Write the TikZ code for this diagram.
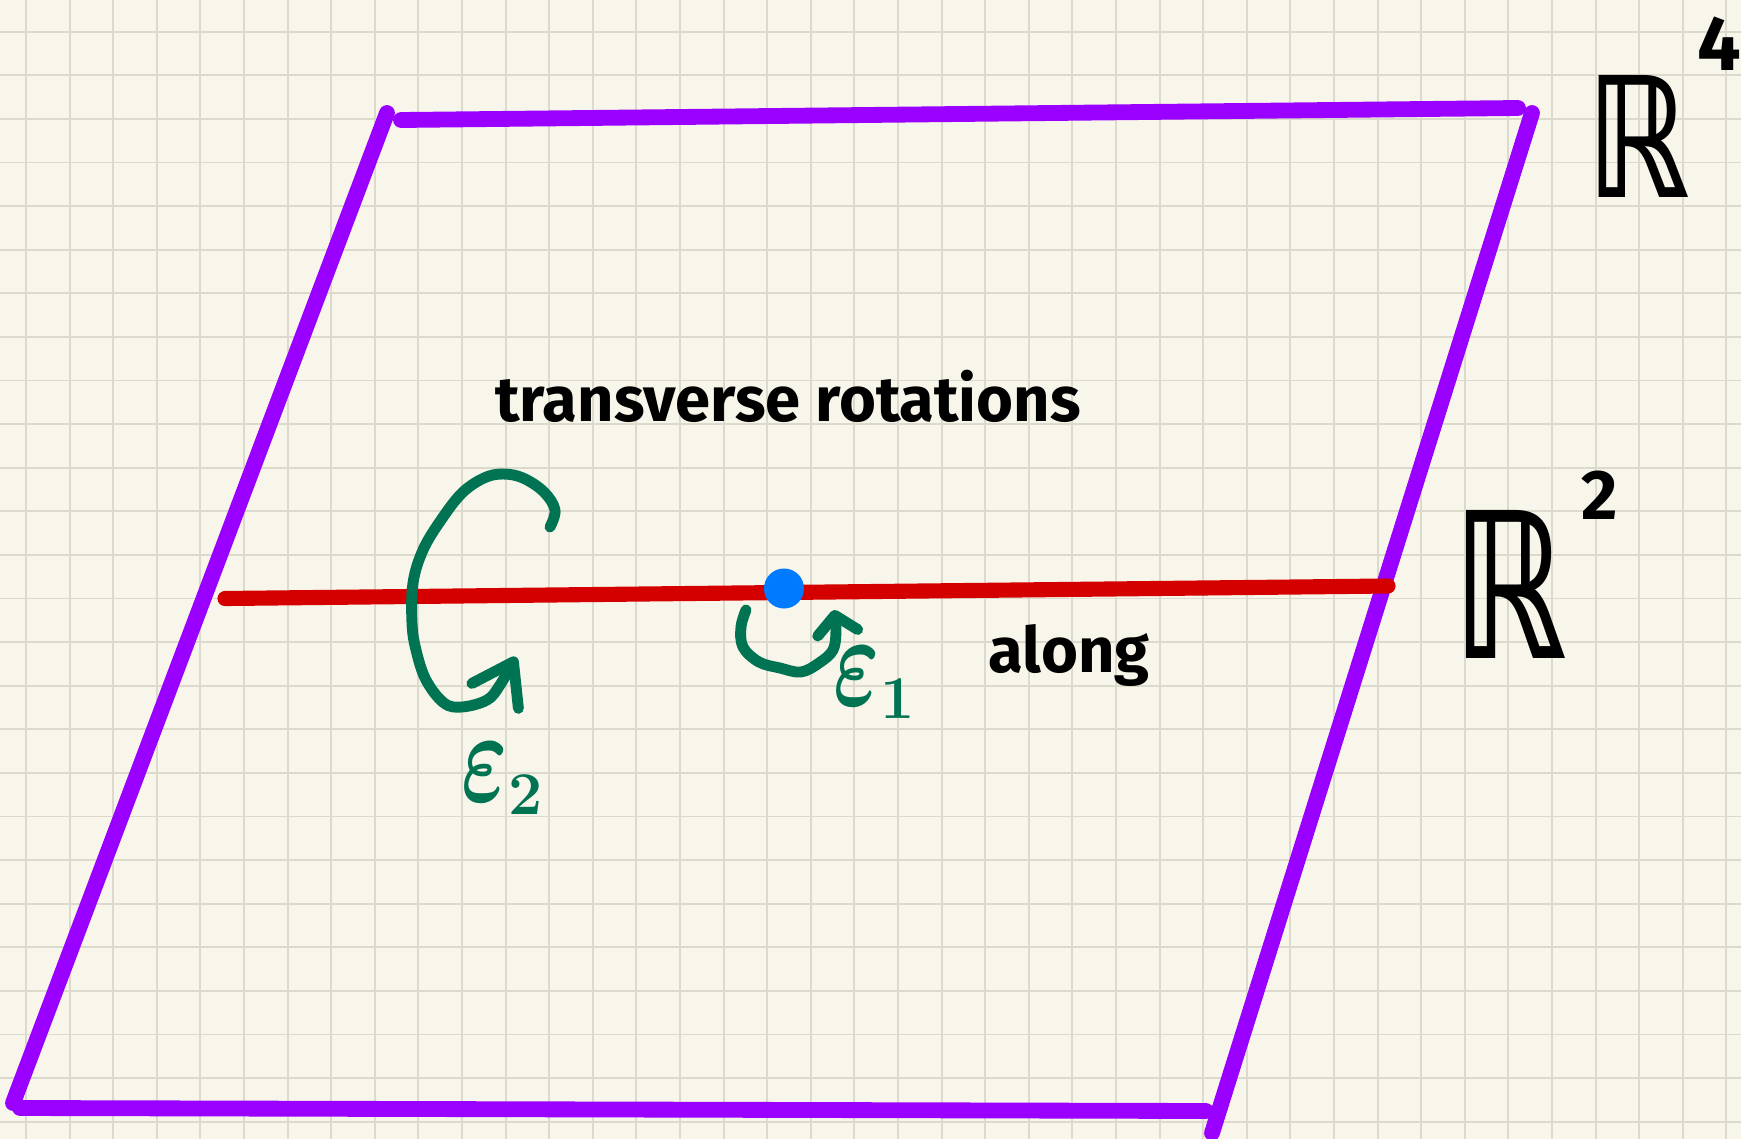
\documentclass[tikz,border=0pt]{standalone}
\usepackage{fontspec}
\setmainfont{Fira Sans}
\newfontfamily\symfont{DejaVu Sans}
\usepackage{graphicx}
\usetikzlibrary{arrows.meta,positioning}

\definecolor{paper}{HTML}{F8F6EA}
\definecolor{gridgray}{HTML}{DCD9CD}
\definecolor{planepurple}{HTML}{9A00FF}
\definecolor{axisred}{HTML}{D40000}
\definecolor{rotgreen}{HTML}{007352}
\definecolor{pointblue}{HTML}{007AFF}

\begin{document}
\begin{tikzpicture}[x=0.01cm, y=-0.01cm]
    \tikzstyle{gridline} = [draw=gridgray, line width=0.55pt]
    \tikzstyle{plane}    = [draw=planepurple, line width=4.5pt, line cap=round]
    \tikzstyle{axis}     = [draw=axisred, line width=4.3pt, line cap=round]
    \tikzstyle{turn}     = [draw=rotgreen, line width=3.1pt, line cap=round, line join=round]
    \tikzstyle{point}    = [circle, fill=pointblue, minimum size=0.4cm, inner sep=0pt]
    \tikzstyle{hand}     = [font=\fontsize{18}{20}\selectfont\bfseries, inner sep=0pt]
    \tikzstyle{epsl}     = [text=rotgreen, font=\fontsize{26}{28}\selectfont\boldmath, inner sep=0pt]
    \tikzstyle{space}    = [font=\symfont\bfseries, inner sep=0pt]
    \tikzstyle{dimlabel} = [font=\bfseries, inner sep=0pt]

    % paper with grid
    \useasboundingbox (0,0) rectangle (1741,1139);
    \clip (0,0) rectangle (1741,1139);
    \fill[paper] (0,0) rectangle (1741,1139);
    \foreach \i in {0,...,39}
        \draw[gridline] ({26+43.6*\i},0) -- ({26+43.6*\i},1139);
    \foreach \j in {0,...,25}
        \draw[gridline] (0,{31.7+43.6*\j}) -- (1741,{31.7+43.6*\j});

    % the plane
    \coordinate (lt) at (387,113);
    \coordinate (lb) at (13,1103);
    \coordinate (tl) at (401,120);
    \coordinate (tr) at (1518,108);
    \coordinate (rt) at (1532,113);
    \coordinate (rb) at (1212,1133);
    \coordinate (bl) at (20,1108);
    \coordinate (br) at (1206,1111);

    \draw [plane] (lt) -- (lb);
    \draw [plane] (tl) -- (tr);
    \draw [plane] (rt) -- (rb);
    \draw [plane] (bl) -- (br);

    % the line and the point on it
    \coordinate (axl) at (225,598.5);
    \coordinate (axr) at (1388,586);
    \draw [axis] (axl) -- (axr);
    \node [point] (pt) at (784,588.5) {};

    % rotations
    \draw [turn, -{Straight Barb[length=11pt, width=15pt, round]}] plot [smooth, tension=0.6] coordinates {
        (550,527) (555,510) (544,492) (523,478) (503,474) (484,478) (462,493)
        (441,520) (423,550) (413,583) (412,623) (416,650) (426,680) (444,703)
        (462,707) (487,700) (500,685) (516,657)};
    \draw [turn, -{Straight Barb[length=5pt, width=11.5pt, round]}] plot [smooth, tension=0.6] coordinates {
        (746,610) (741,627) (743,647) (759,662) (780,668) (801,672) (819,663)
        (833,650) (836,630) (834,610)};

    \node [epsl] (eps2) at (503,779) {$\scalebox{1}[1.5]{$\varepsilon$}_2$};
    \node [epsl] (eps1) at (875,683) {$\scalebox{1}[1.5]{$\varepsilon$}_1$};

    \node [hand] (rotlabel) at (788,396) {transverse rotations};
    \node [hand, anchor=base west] (along) at (988,672) {along};

    % the spaces
    \node [space] (rfour) at (1638,136) {\resizebox{1.03cm}{1.22cm}{ℝ}};
    \node [dimlabel, font=\fontsize{22}{24}\selectfont\bfseries, above right=0.03cm and 0.07cm of rfour] (four) {4};
    \node [space] (rtwo) at (1510,584) {\resizebox{1.14cm}{1.48cm}{ℝ}};
    \node [dimlabel, font=\fontsize{20}{22}\selectfont\bfseries, above right=-0.11cm and 0.13cm of rtwo] (two) {2};
\end{tikzpicture}
\end{document}
